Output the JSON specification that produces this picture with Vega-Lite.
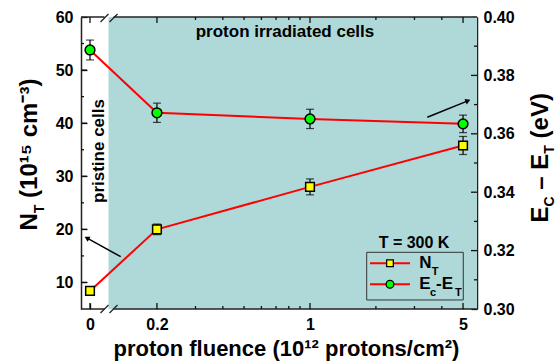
{
 "$schema": "https://vega.github.io/schema/vega-lite/v6.json",
 "width": 396, "height": 292,
 "autosize": {"type": "none"},
 "padding": {"left": 81, "top": 17, "right": 78, "bottom": 53},
 "background": "white",
 "config": {
  "view": {"stroke": null},
  "axis": {"labelFont": "Liberation Sans", "labelFontWeight": "bold", "labelColor": "#000", "labelFontSize": 16, "titleFont": "Liberation Sans", "titleFontWeight": "bold", "titleColor": "#000", "grid": false}
 },
 "datasets": {
  "pts": [
   {"fluence": 0, "nt": 8.4, "nt_err": 0.8, "ec": 0.3887, "ec_err": 0.0034},
   {"fluence": 0.2, "nt": 20.0, "nt_err": 1.0, "ec": 0.3672, "ec_err": 0.0033},
   {"fluence": 1, "nt": 28.0, "nt_err": 1.5, "ec": 0.3651, "ec_err": 0.0033},
   {"fluence": 5, "nt": 35.8, "nt_err": 1.7, "ec": 0.3634, "ec_err": 0.003}
  ],
  "ticks": [
   {"axis": "nt", "v": 10, "major": 1}, {"axis": "nt", "v": 15, "major": 0}, {"axis": "nt", "v": 20, "major": 1}, {"axis": "nt", "v": 25, "major": 0},
   {"axis": "nt", "v": 30, "major": 1}, {"axis": "nt", "v": 35, "major": 0}, {"axis": "nt", "v": 40, "major": 1}, {"axis": "nt", "v": 45, "major": 0},
   {"axis": "nt", "v": 50, "major": 1}, {"axis": "nt", "v": 55, "major": 0},
   {"axis": "ec", "v": 0.31, "major": 0}, {"axis": "ec", "v": 0.32, "major": 1}, {"axis": "ec", "v": 0.33, "major": 0}, {"axis": "ec", "v": 0.34, "major": 1},
   {"axis": "ec", "v": 0.35, "major": 0}, {"axis": "ec", "v": 0.36, "major": 1}, {"axis": "ec", "v": 0.37, "major": 0}, {"axis": "ec", "v": 0.38, "major": 1},
   {"axis": "ec", "v": 0.39, "major": 0},
   {"axis": "fl", "v": 0.2, "major": 1}, {"axis": "fl", "v": 0.3, "major": 0}, {"axis": "fl", "v": 0.4, "major": 0}, {"axis": "fl", "v": 0.5, "major": 0},
   {"axis": "fl", "v": 0.6, "major": 0}, {"axis": "fl", "v": 0.7, "major": 0}, {"axis": "fl", "v": 0.8, "major": 0}, {"axis": "fl", "v": 0.9, "major": 0},
   {"axis": "fl", "v": 1, "major": 1}, {"axis": "fl", "v": 2, "major": 0}, {"axis": "fl", "v": 3, "major": 0}, {"axis": "fl", "v": 4, "major": 0},
   {"axis": "fl", "v": 5, "major": 1}
  ]
 },
 "data": {"values": [{}]},
 "resolve": {"scale": {"x": "independent", "y": "independent"}, "axis": {"x": "independent", "y": "independent"}},
 "layer": [
  {"mark": {"type": "rect", "fill": "#afd8d8"},
   "encoding": {"x": {"datum": 0.1202, "type": "quantitative", "scale": {"type": "log", "domain": [0.09, 5.79], "nice": false}, "axis": null},
    "x2": {"datum": 5.79}}},
  {"mark": {"type": "rule", "color": "#222", "strokeWidth": 1.5},
   "encoding": {"x": {"datum": -0.026906, "type": "quantitative", "scale": {"type": "linear", "domain": [-0.026906, 1.156951], "nice": false, "zero": false}, "axis": null}, "x2": {"datum": 0.04335},
    "y": {"datum": 5, "type": "quantitative", "scale": {"domain": [5, 60], "nice": false, "zero": false}, "axis": null}}},
  {"mark": {"type": "rule", "color": "#222", "strokeWidth": 1.5},
   "encoding": {"x": {"datum": 0.07025, "type": "quantitative", "scale": {"type": "linear", "domain": [-0.026906, 1.156951], "nice": false, "zero": false}, "axis": null}, "x2": {"datum": 1.156951},
    "y": {"datum": 5, "type": "quantitative", "scale": {"domain": [5, 60], "nice": false, "zero": false}, "axis": null}}},
  {"mark": {"type": "rule", "color": "#222", "strokeWidth": 1.5},
   "encoding": {"x": {"datum": -0.026906, "type": "quantitative", "scale": {"type": "linear", "domain": [-0.026906, 1.156951], "nice": false, "zero": false}, "axis": null}, "x2": {"datum": 0.04335},
    "y": {"datum": 60, "type": "quantitative", "scale": {"domain": [5, 60], "nice": false, "zero": false}, "axis": null}}},
  {"mark": {"type": "rule", "color": "#222", "strokeWidth": 1.5},
   "encoding": {"x": {"datum": 0.07025, "type": "quantitative", "scale": {"type": "linear", "domain": [-0.026906, 1.156951], "nice": false, "zero": false}, "axis": null}, "x2": {"datum": 1.156951},
    "y": {"datum": 60, "type": "quantitative", "scale": {"domain": [5, 60], "nice": false, "zero": false}, "axis": null}}},
  {"mark": {"type": "rule", "color": "#222", "strokeWidth": 1.2},
   "encoding": {"x": {"datum": 0.03139, "type": "quantitative", "scale": {"type": "linear", "domain": [-0.026906, 1.156951], "nice": false, "zero": false}, "axis": null}, "x2": {"datum": 0.05531},
    "y": {"datum": 4.25, "type": "quantitative", "scale": {"domain": [5, 60], "nice": false, "zero": false}, "axis": null}, "y2": {"datum": 5.75}}},
  {"mark": {"type": "rule", "color": "#222", "strokeWidth": 1.2},
   "encoding": {"x": {"datum": 0.0583, "type": "quantitative", "scale": {"type": "linear", "domain": [-0.026906, 1.156951], "nice": false, "zero": false}, "axis": null}, "x2": {"datum": 0.08221},
    "y": {"datum": 4.25, "type": "quantitative", "scale": {"domain": [5, 60], "nice": false, "zero": false}, "axis": null}, "y2": {"datum": 5.75}}},
  {"mark": {"type": "rule", "color": "#222", "strokeWidth": 1.2},
   "encoding": {"x": {"datum": 0.03139, "type": "quantitative", "scale": {"type": "linear", "domain": [-0.026906, 1.156951], "nice": false, "zero": false}, "axis": null}, "x2": {"datum": 0.05531},
    "y": {"datum": 59.06, "type": "quantitative", "scale": {"domain": [5, 60], "nice": false, "zero": false}, "axis": null}, "y2": {"datum": 60.57}}},
  {"mark": {"type": "rule", "color": "#222", "strokeWidth": 1.2},
   "encoding": {"x": {"datum": 0.0583, "type": "quantitative", "scale": {"type": "linear", "domain": [-0.026906, 1.156951], "nice": false, "zero": false}, "axis": null}, "x2": {"datum": 0.08221},
    "y": {"datum": 59.06, "type": "quantitative", "scale": {"domain": [5, 60], "nice": false, "zero": false}, "axis": null}, "y2": {"datum": 60.57}}},

  {"data": {"name": "ticks"}, "transform": [{"filter": "datum.axis == 'nt'"}],
   "mark": {"type": "rule", "color": "#111", "strokeWidth": 1.3},
   "encoding": {"x": {"datum": -0.026906, "type": "quantitative", "scale": {"type": "linear", "domain": [-0.026906, 1.156951], "nice": false, "zero": false}, "axis": null},
    "x2": {"datum": -0.008969},
    "y": {"field": "v", "type": "quantitative", "scale": {"domain": [5, 60], "nice": false, "zero": false}, "axis": null},
    "strokeOpacity": {"condition": {"test": "datum.major == 1", "value": 1}, "value": 0}}},
  {"data": {"name": "ticks"}, "transform": [{"filter": "datum.axis == 'nt' && datum.major == 0"}],
   "mark": {"type": "rule", "color": "#111", "strokeWidth": 1.3},
   "encoding": {"x": {"datum": -0.026906, "type": "quantitative", "scale": {"type": "linear", "domain": [-0.026906, 1.156951], "nice": false, "zero": false}, "axis": null},
    "x2": {"datum": -0.017937},
    "y": {"field": "v", "type": "quantitative", "scale": {"domain": [5, 60], "nice": false, "zero": false}, "axis": null}}},
  {"data": {"name": "ticks"}, "transform": [{"filter": "datum.axis == 'ec' && datum.major == 1"}],
   "mark": {"type": "rule", "color": "#111", "strokeWidth": 1.3},
   "encoding": {"x": {"datum": 1.156951, "type": "quantitative", "scale": {"type": "linear", "domain": [-0.026906, 1.156951], "nice": false, "zero": false}, "axis": null},
    "x2": {"datum": 1.139014},
    "y": {"field": "v", "type": "quantitative", "scale": {"domain": [0.3, 0.4], "nice": false, "zero": false}, "axis": null}}},
  {"data": {"name": "ticks"}, "transform": [{"filter": "datum.axis == 'ec' && datum.major == 0"}],
   "mark": {"type": "rule", "color": "#111", "strokeWidth": 1.3},
   "encoding": {"x": {"datum": 1.156951, "type": "quantitative", "scale": {"type": "linear", "domain": [-0.026906, 1.156951], "nice": false, "zero": false}, "axis": null},
    "x2": {"datum": 1.147983},
    "y": {"field": "v", "type": "quantitative", "scale": {"domain": [0.3, 0.4], "nice": false, "zero": false}, "axis": null}}},
  {"data": {"name": "ticks"}, "transform": [{"filter": "datum.axis == 'fl' && datum.major == 1"}],
   "mark": {"type": "rule", "color": "#111", "strokeWidth": 1.3},
   "encoding": {"x": {"field": "v", "type": "quantitative", "scale": {"type": "log", "domain": [0.09, 5.79], "nice": false}, "axis": null},
    "y": {"datum": 5, "type": "quantitative", "scale": {"domain": [5, 60], "nice": false, "zero": false}, "axis": null}, "y2": {"datum": 6.13}}},
  {"data": {"name": "ticks"}, "transform": [{"filter": "datum.axis == 'fl' && datum.major == 0"}],
   "mark": {"type": "rule", "color": "#111", "strokeWidth": 1.3},
   "encoding": {"x": {"field": "v", "type": "quantitative", "scale": {"type": "log", "domain": [0.09, 5.79], "nice": false}, "axis": null},
    "y": {"datum": 5, "type": "quantitative", "scale": {"domain": [5, 60], "nice": false, "zero": false}, "axis": null}, "y2": {"datum": 5.565}}},
  {"data": {"name": "ticks"}, "transform": [{"filter": "datum.axis == 'fl' && datum.major == 1"}],
   "mark": {"type": "rule", "color": "#111", "strokeWidth": 1.3},
   "encoding": {"x": {"field": "v", "type": "quantitative", "scale": {"type": "log", "domain": [0.09, 5.79], "nice": false}, "axis": null},
    "y": {"datum": 60, "type": "quantitative", "scale": {"domain": [5, 60], "nice": false, "zero": false}, "axis": null}, "y2": {"datum": 58.87}}},
  {"data": {"name": "ticks"}, "transform": [{"filter": "datum.axis == 'fl' && datum.major == 0"}],
   "mark": {"type": "rule", "color": "#111", "strokeWidth": 1.3},
   "encoding": {"x": {"field": "v", "type": "quantitative", "scale": {"type": "log", "domain": [0.09, 5.79], "nice": false}, "axis": null},
    "y": {"datum": 60, "type": "quantitative", "scale": {"domain": [5, 60], "nice": false, "zero": false}, "axis": null}, "y2": {"datum": 59.435}}},
  {"mark": {"type": "rule", "color": "#111", "strokeWidth": 1.3},
   "encoding": {"x": {"datum": 0, "type": "quantitative", "scale": {"type": "linear", "domain": [-0.026906, 1.156951], "nice": false, "zero": false}, "axis": null},
    "y": {"datum": 5, "type": "quantitative", "scale": {"domain": [5, 60], "nice": false, "zero": false}, "axis": null}, "y2": {"datum": 6.13}}},
  {"mark": {"type": "rule", "color": "#111", "strokeWidth": 1.3},
   "encoding": {"x": {"datum": 0, "type": "quantitative", "scale": {"type": "linear", "domain": [-0.026906, 1.156951], "nice": false, "zero": false}, "axis": null},
    "y": {"datum": 60, "type": "quantitative", "scale": {"domain": [5, 60], "nice": false, "zero": false}, "axis": null}, "y2": {"datum": 58.87}}},

  {"data": {"name": "pts"}, "transform": [{"filter": "datum.fluence <= 0.2"}],
   "mark": {"type": "line", "color": "#ff0000", "strokeWidth": 2},
   "encoding": {
    "x": {"field": "fluence", "type": "quantitative", "scale": {"type": "linear", "domain": [-0.026906, 1.156951], "nice": false, "zero": false},
     "axis": {"orient": "bottom", "values": [0], "offset": -6, "tickSize": 6, "tickColor": "#111", "tickWidth": 1.3, "labelPadding": 7, "domain": false, "title": null}},
    "y": {"field": "nt", "type": "quantitative", "scale": {"domain": [5, 60], "nice": false, "zero": false},
     "axis": {"orient": "left", "values": [10, 20, 30, 40, 50, 60], "offset": -6, "tickSize": 6, "tickColor": "#111", "tickWidth": 1.3, "labelPadding": 8, "domain": false,
      "title": "N", "titleFontSize": 24, "titleX": -51, "titleY": 213, "titleAngle": -90, "titleAlign": "left", "titleBaseline": "alphabetic"}}}},
  {"data": {"name": "pts"}, "transform": [{"filter": "datum.fluence <= 0.2"}],
   "mark": {"type": "line", "color": "#ff0000", "strokeWidth": 2},
   "encoding": {
    "x": {"field": "fluence", "type": "quantitative", "scale": {"type": "linear", "domain": [-0.026906, 1.156951], "nice": false, "zero": false}, "axis": null},
    "y": {"field": "ec", "type": "quantitative", "scale": {"domain": [0.3, 0.4], "nice": false, "zero": false},
     "axis": {"orient": "right", "ticks": false, "labels": false, "domain": false,
      "title": "E", "titleFontSize": 24, "titleX": 70, "titleY": 205, "titleAngle": -90, "titleAlign": "left", "titleBaseline": "alphabetic"}}}},
  {"data": {"name": "pts"}, "transform": [{"filter": "datum.fluence >= 0.2"}],
   "mark": {"type": "line", "color": "#ff0000", "strokeWidth": 2},
   "encoding": {
    "x": {"field": "fluence", "type": "quantitative", "scale": {"type": "log", "domain": [0.09, 5.79], "nice": false},
     "axis": {"orient": "bottom", "values": [0.2, 1, 5], "labelExpr": "datum.value == 0.2 ? '0.2' : datum.value == 1 ? '1' : '5'", "offset": -6, "tickSize": 6, "tickColor": "#111", "tickWidth": 1.3, "labelPadding": 7, "domain": false,
      "title": "proton fluence (10¹² protons/cm²)", "titleFontSize": 22, "titleX": 32, "titleY": 52, "titleAlign": "left", "titleBaseline": "alphabetic", "titleAngle": 0}},
    "y": {"field": "nt", "type": "quantitative", "scale": {"domain": [5, 60], "nice": false, "zero": false},
     "axis": {"orient": "left", "ticks": false, "labels": false, "domain": false,
      "title": "T", "titleFontSize": 14, "titleX": -38, "titleY": 195.7, "titleAngle": -90, "titleAlign": "left", "titleBaseline": "alphabetic"}}}},
  {"data": {"name": "pts"}, "transform": [{"filter": "datum.fluence >= 0.2"}],
   "mark": {"type": "line", "color": "#ff0000", "strokeWidth": 2},
   "encoding": {
    "x": {"field": "fluence", "type": "quantitative", "scale": {"type": "log", "domain": [0.09, 5.79], "nice": false}, "axis": null},
    "y": {"field": "ec", "type": "quantitative", "scale": {"domain": [0.3, 0.4], "nice": false, "zero": false},
     "axis": {"orient": "right", "values": [0.3, 0.32, 0.34, 0.36, 0.38, 0.4], "format": ".2f", "offset": -6, "tickSize": 6, "tickColor": "#111", "tickWidth": 1.3, "labelPadding": 6, "domain": false,
      "title": "C", "titleFontSize": 14, "titleX": 82, "titleY": 189, "titleAngle": -90, "titleAlign": "left", "titleBaseline": "alphabetic"}}}},

  {"data": {"name": "pts"}, "transform": [{"filter": "datum.fluence == 0"}],
   "mark": {"type": "errorbar", "color": "black", "ticks": {"size": 8, "thickness": 1.2}, "rule": {"strokeWidth": 1.2}},
   "encoding": {
    "x": {"field": "fluence", "type": "quantitative", "scale": {"type": "linear", "domain": [-0.026906, 1.156951], "nice": false, "zero": false}, "axis": null},
    "y": {"field": "nt", "type": "quantitative", "scale": {"domain": [5, 60], "nice": false, "zero": false}, "axis": null},
    "yError": {"field": "nt_err"}}},
  {"data": {"name": "pts"}, "transform": [{"filter": "datum.fluence > 0"}],
   "mark": {"type": "errorbar", "color": "black", "ticks": {"size": 8, "thickness": 1.2}, "rule": {"strokeWidth": 1.2}},
   "encoding": {
    "x": {"field": "fluence", "type": "quantitative", "scale": {"type": "log", "domain": [0.09, 5.79], "nice": false}, "axis": null},
    "y": {"field": "nt", "type": "quantitative", "scale": {"domain": [5, 60], "nice": false, "zero": false}, "axis": null},
    "yError": {"field": "nt_err"}}},
  {"data": {"name": "pts"}, "transform": [{"filter": "datum.fluence == 0"}],
   "mark": {"type": "errorbar", "color": "black", "ticks": {"size": 8, "thickness": 1.2}, "rule": {"strokeWidth": 1.2}},
   "encoding": {
    "x": {"field": "fluence", "type": "quantitative", "scale": {"type": "linear", "domain": [-0.026906, 1.156951], "nice": false, "zero": false}, "axis": null},
    "y": {"field": "ec", "type": "quantitative", "scale": {"domain": [0.3, 0.4], "nice": false, "zero": false}, "axis": null},
    "yError": {"field": "ec_err"}}},
  {"data": {"name": "pts"}, "transform": [{"filter": "datum.fluence > 0"}],
   "mark": {"type": "errorbar", "color": "black", "ticks": {"size": 8, "thickness": 1.2}, "rule": {"strokeWidth": 1.2}},
   "encoding": {
    "x": {"field": "fluence", "type": "quantitative", "scale": {"type": "log", "domain": [0.09, 5.79], "nice": false}, "axis": null},
    "y": {"field": "ec", "type": "quantitative", "scale": {"domain": [0.3, 0.4], "nice": false, "zero": false}, "axis": null},
    "yError": {"field": "ec_err"}}},

  {"data": {"name": "pts"}, "transform": [{"filter": "datum.fluence == 0"}],
   "mark": {"type": "point", "shape": "square", "filled": true, "fill": "#ffff00", "stroke": "#000", "strokeWidth": 1.5, "size": 75, "opacity": 1},
   "encoding": {
    "x": {"field": "fluence", "type": "quantitative", "scale": {"type": "linear", "domain": [-0.026906, 1.156951], "nice": false, "zero": false}, "axis": null},
    "y": {"field": "nt", "type": "quantitative", "scale": {"domain": [5, 60], "nice": false, "zero": false},
     "axis": {"orient": "left", "domain": true, "domainColor": "#222", "domainWidth": 1.5, "ticks": false, "labels": false, "title": "(10¹⁵ cm⁻³)", "titleFontSize": 24, "titleX": -45, "titleY": 180.4, "titleAngle": -90, "titleAlign": "left", "titleBaseline": "alphabetic"}}}},
  {"data": {"name": "pts"}, "transform": [{"filter": "datum.fluence > 0"}],
   "mark": {"type": "point", "shape": "square", "filled": true, "fill": "#ffff00", "stroke": "#000", "strokeWidth": 1.5, "size": 75, "opacity": 1},
   "encoding": {
    "x": {"field": "fluence", "type": "quantitative", "scale": {"type": "log", "domain": [0.09, 5.79], "nice": false}, "axis": null},
    "y": {"field": "nt", "type": "quantitative", "scale": {"domain": [5, 60], "nice": false, "zero": false}, "axis": null}}},
  {"data": {"name": "pts"}, "transform": [{"filter": "datum.fluence == 0"}],
   "mark": {"type": "point", "shape": "circle", "filled": true, "fill": "#00ff00", "stroke": "#000", "strokeWidth": 1.5, "size": 95, "opacity": 1},
   "encoding": {
    "x": {"field": "fluence", "type": "quantitative", "scale": {"type": "linear", "domain": [-0.026906, 1.156951], "nice": false, "zero": false}, "axis": null},
    "y": {"field": "ec", "type": "quantitative", "scale": {"domain": [0.3, 0.4], "nice": false, "zero": false},
     "axis": {"orient": "right", "domain": true, "domainColor": "#222", "domainWidth": 1.5, "ticks": false, "labels": false, "title": "– E", "titleFontSize": 24, "titleX": 70, "titleY": 172.2, "titleAngle": -90, "titleAlign": "left", "titleBaseline": "alphabetic"}}}},
  {"data": {"name": "pts"}, "transform": [{"filter": "datum.fluence > 0"}],
   "mark": {"type": "point", "shape": "circle", "filled": true, "fill": "#00ff00", "stroke": "#000", "strokeWidth": 1.5, "size": 95, "opacity": 1},
   "encoding": {
    "x": {"field": "fluence", "type": "quantitative", "scale": {"type": "log", "domain": [0.09, 5.79], "nice": false}, "axis": null},
    "y": {"field": "ec", "type": "quantitative", "scale": {"domain": [0.3, 0.4], "nice": false, "zero": false},
     "axis": {"orient": "right", "domain": false, "ticks": false, "labels": false, "title": "T", "titleFontSize": 14, "titleX": 76, "titleY": 136.2, "titleAngle": -90, "titleAlign": "left", "titleBaseline": "alphabetic"}}}},
  {"data": {"name": "pts"}, "transform": [{"filter": "datum.fluence == 5"}],
   "mark": {"type": "point", "opacity": 0},
   "encoding": {
    "x": {"field": "fluence", "type": "quantitative", "scale": {"type": "log", "domain": [0.09, 5.79], "nice": false}, "axis": null},
    "y": {"field": "ec", "type": "quantitative", "scale": {"domain": [0.3, 0.4], "nice": false, "zero": false},
     "axis": {"orient": "right", "domain": false, "ticks": false, "labels": false, "title": "(eV)", "titleFontSize": 24, "titleX": 70, "titleY": 120.9, "titleAngle": -90, "titleAlign": "left", "titleBaseline": "alphabetic"}}}},

  {"mark": {"type": "text", "text": "proton irradiated cells", "font": "Liberation Sans", "fontWeight": "bold", "fontSize": 17, "color": "#000", "align": "center", "baseline": "alphabetic"},
   "encoding": {"x": {"datum": 0.7687, "type": "quantitative", "scale": {"type": "log", "domain": [0.09, 5.79], "nice": false}, "axis": null},
    "y": {"datum": 56.29, "type": "quantitative", "scale": {"domain": [5, 60], "nice": false, "zero": false}, "axis": null}}},
  {"mark": {"type": "text", "text": "pristine cells", "font": "Liberation Sans", "fontWeight": "bold", "fontSize": 17, "color": "#000", "align": "center", "baseline": "alphabetic", "angle": 270},
   "encoding": {"x": {"datum": 0.04185, "type": "quantitative", "scale": {"type": "linear", "domain": [-0.026906, 1.156951], "nice": false, "zero": false}, "axis": null},
    "y": {"datum": 34.76, "type": "quantitative", "scale": {"domain": [5, 60], "nice": false, "zero": false}, "axis": null}}},
  {"mark": {"type": "text", "text": "T = 300 K", "font": "Liberation Sans", "fontWeight": "bold", "fontSize": 16, "color": "#000", "align": "center", "baseline": "alphabetic"},
   "encoding": {"x": {"datum": 2.986, "type": "quantitative", "scale": {"type": "log", "domain": [0.09, 5.79], "nice": false}, "axis": null},
    "y": {"datum": 16.43, "type": "quantitative", "scale": {"domain": [5, 60], "nice": false, "zero": false}, "axis": null}}},

  {"mark": {"type": "rect", "fill": null, "fillOpacity": 0, "stroke": "#333", "strokeWidth": 1},
   "encoding": {"x": {"datum": 1.8154, "type": "quantitative", "scale": {"type": "log", "domain": [0.09, 5.79], "nice": false}, "axis": null}, "x2": {"datum": 5.012},
    "y": {"datum": 15.68, "type": "quantitative", "scale": {"domain": [5, 60], "nice": false, "zero": false}, "axis": null}, "y2": {"datum": 6.7}}},
  {"mark": {"type": "rule", "color": "#ff0000", "strokeWidth": 2},
   "encoding": {"x": {"datum": 1.879, "type": "quantitative", "scale": {"type": "log", "domain": [0.09, 5.79], "nice": false}, "axis": null}, "x2": {"datum": 2.862},
    "y": {"datum": 13.61, "type": "quantitative", "scale": {"domain": [5, 60], "nice": false, "zero": false}, "axis": null}}},
  {"mark": {"type": "rule", "color": "#ff0000", "strokeWidth": 2},
   "encoding": {"x": {"datum": 1.879, "type": "quantitative", "scale": {"type": "log", "domain": [0.09, 5.79], "nice": false}, "axis": null}, "x2": {"datum": 2.862},
    "y": {"datum": 9.65, "type": "quantitative", "scale": {"domain": [5, 60], "nice": false, "zero": false}, "axis": null}}},
  {"mark": {"type": "point", "shape": "square", "filled": true, "fill": "#ffff00", "stroke": "#000", "strokeWidth": 1.3, "size": 45, "opacity": 1},
   "encoding": {"x": {"datum": 2.319, "type": "quantitative", "scale": {"type": "log", "domain": [0.09, 5.79], "nice": false}, "axis": null},
    "y": {"datum": 13.61, "type": "quantitative", "scale": {"domain": [5, 60], "nice": false, "zero": false}, "axis": null}}},
  {"mark": {"type": "point", "shape": "circle", "filled": true, "fill": "#00ff00", "stroke": "#000", "strokeWidth": 1.3, "size": 60, "opacity": 1},
   "encoding": {"x": {"datum": 2.319, "type": "quantitative", "scale": {"type": "log", "domain": [0.09, 5.79], "nice": false}, "axis": null},
    "y": {"datum": 9.65, "type": "quantitative", "scale": {"domain": [5, 60], "nice": false, "zero": false}, "axis": null}}},
  {"mark": {"type": "text", "text": "N", "font": "Liberation Sans", "fontWeight": "bold", "fontSize": 17, "color": "#000", "align": "left", "baseline": "alphabetic"},
   "encoding": {"x": {"datum": 3.157, "type": "quantitative", "scale": {"type": "log", "domain": [0.09, 5.79], "nice": false}, "axis": null},
    "y": {"datum": 12.67, "type": "quantitative", "scale": {"domain": [5, 60], "nice": false, "zero": false}, "axis": null}}},
  {"mark": {"type": "text", "text": "T", "font": "Liberation Sans", "fontWeight": "bold", "fontSize": 11, "color": "#000", "align": "left", "baseline": "alphabetic"},
   "encoding": {"x": {"datum": 3.595, "type": "quantitative", "scale": {"type": "log", "domain": [0.09, 5.79], "nice": false}, "axis": null},
    "y": {"datum": 11.4, "type": "quantitative", "scale": {"domain": [5, 60], "nice": false, "zero": false}, "axis": null}}},
  {"mark": {"type": "text", "text": "E", "font": "Liberation Sans", "fontWeight": "bold", "fontSize": 17, "color": "#000", "align": "left", "baseline": "alphabetic"},
   "encoding": {"x": {"datum": 3.157, "type": "quantitative", "scale": {"type": "log", "domain": [0.09, 5.79], "nice": false}, "axis": null},
    "y": {"datum": 8.72, "type": "quantitative", "scale": {"domain": [5, 60], "nice": false, "zero": false}, "axis": null}}},
  {"mark": {"type": "text", "text": "c", "font": "Liberation Sans", "fontWeight": "bold", "fontSize": 11, "color": "#000", "align": "left", "baseline": "alphabetic"},
   "encoding": {"x": {"datum": 3.531, "type": "quantitative", "scale": {"type": "log", "domain": [0.09, 5.79], "nice": false}, "axis": null},
    "y": {"datum": 7.45, "type": "quantitative", "scale": {"domain": [5, 60], "nice": false, "zero": false}, "axis": null}}},
  {"mark": {"type": "text", "text": "-E", "font": "Liberation Sans", "fontWeight": "bold", "fontSize": 17, "color": "#000", "align": "left", "baseline": "alphabetic"},
   "encoding": {"x": {"datum": 3.761, "type": "quantitative", "scale": {"type": "log", "domain": [0.09, 5.79], "nice": false}, "axis": null},
    "y": {"datum": 8.72, "type": "quantitative", "scale": {"domain": [5, 60], "nice": false, "zero": false}, "axis": null}}},
  {"mark": {"type": "text", "text": "T", "font": "Liberation Sans", "fontWeight": "bold", "fontSize": 11, "color": "#000", "align": "left", "baseline": "alphabetic"},
   "encoding": {"x": {"datum": 4.593, "type": "quantitative", "scale": {"type": "log", "domain": [0.09, 5.79], "nice": false}, "axis": null},
    "y": {"datum": 7.45, "type": "quantitative", "scale": {"domain": [5, 60], "nice": false, "zero": false}, "axis": null}}},

  {"mark": {"type": "rule", "color": "#000", "strokeWidth": 1.5},
   "encoding": {"x": {"datum": 0.09178, "type": "quantitative", "scale": {"type": "linear", "domain": [-0.026906, 1.156951], "nice": false, "zero": false}, "axis": null}, "x2": {"datum": -0.00717},
    "y": {"datum": 14.85, "type": "quantitative", "scale": {"domain": [5, 60], "nice": false, "zero": false}, "axis": null}, "y2": {"datum": 18.3}}},
  {"mark": {"type": "point", "shape": "triangle", "filled": true, "fill": "#000", "strokeWidth": 0, "size": 35, "angle": 299, "opacity": 1},
   "encoding": {"x": {"datum": -0.00717, "type": "quantitative", "scale": {"type": "linear", "domain": [-0.026906, 1.156951], "nice": false, "zero": false}, "axis": null},
    "y": {"datum": 18.3, "type": "quantitative", "scale": {"domain": [5, 60], "nice": false, "zero": false}, "axis": null}}},
  {"mark": {"type": "rule", "color": "#000", "strokeWidth": 1.5},
   "encoding": {"x": {"datum": 3.433, "type": "quantitative", "scale": {"type": "log", "domain": [0.09, 5.79], "nice": false}, "axis": null}, "x2": {"datum": 5.222},
    "y": {"datum": 41.11, "type": "quantitative", "scale": {"domain": [5, 60], "nice": false, "zero": false}, "axis": null}, "y2": {"datum": 44.16}}},
  {"mark": {"type": "point", "shape": "triangle", "filled": true, "fill": "#000", "strokeWidth": 0, "size": 35, "angle": 68, "opacity": 1},
   "encoding": {"x": {"datum": 5.222, "type": "quantitative", "scale": {"type": "log", "domain": [0.09, 5.79], "nice": false}, "axis": null},
    "y": {"datum": 44.16, "type": "quantitative", "scale": {"domain": [5, 60], "nice": false, "zero": false}, "axis": null}}}
 ]
}
